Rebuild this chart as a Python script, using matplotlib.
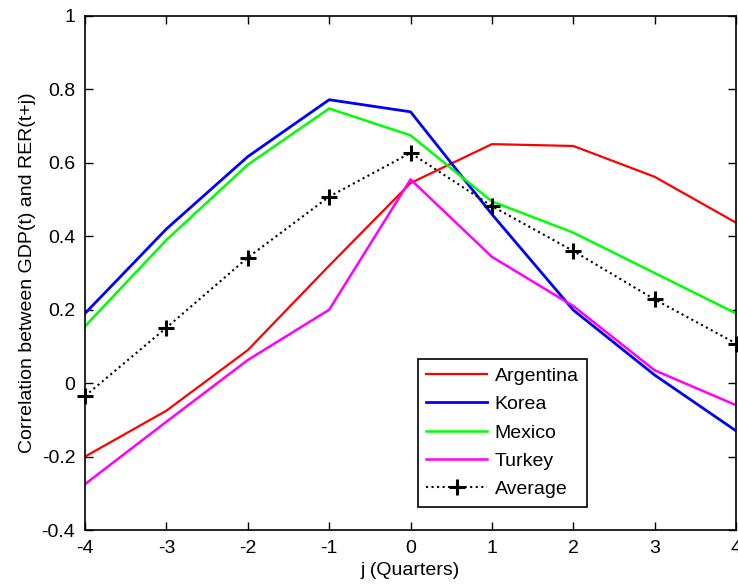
import numpy as np
import matplotlib.pyplot as plt

plt.rcParams['font.family'] = ['Liberation Sans', 'DejaVu Sans']

# lags j (quarters)
lags = [-4, -3, -2, -1, 0, 1, 2, 3, 4]

# correlation between GDP(t) and RER(t+j)
argentina = [-0.20, -0.075, 0.09, 0.32, 0.545, 0.651, 0.646, 0.562, 0.437]
korea = [0.19, 0.42, 0.617, 0.772, 0.739, 0.46, 0.199, 0.022, -0.13]
mexico = [0.155, 0.39, 0.595, 0.748, 0.675, 0.495, 0.41, 0.30, 0.19]
turkey = [-0.275, -0.105, 0.063, 0.20, 0.555, 0.344, 0.21, 0.035, -0.06]
average = [-0.035, 0.151, 0.342, 0.508, 0.627, 0.482, 0.36, 0.228, 0.108]

fig = plt.figure(figsize=(7.38, 5.88), dpi=100)
ax = fig.add_axes([0.1152, 0.0986, 0.8822, 0.8742])

ax.plot(lags, argentina, color='#ff0000', lw=1.6, label='Argentina')
ax.plot(lags, korea, color='#0000ff', lw=2.0, label='Korea')
ax.plot(lags, mexico, color='#00ff00', lw=1.8, label='Mexico')
ax.plot(lags, turkey, color='#ff00ff', lw=1.8, label='Turkey')
ax.plot(lags, average, color='black', ls=':', lw=1.5, marker='+',
        ms=11, mew=2.2, label='Average', clip_on=False)

ax.set_xlim(-4, 4)
ax.set_ylim(-0.4, 1)
ax.set_xticks(lags)
ax.set_yticks([-0.4, -0.2, 0, 0.2, 0.4, 0.6, 0.8, 1])
ax.set_yticklabels(['-0.4', '-0.2', '0', '0.2', '0.4', '0.6', '0.8', '1'])
ax.set_xticklabels([str(v) for v in lags])
ax.tick_params(direction='in', top=True, right=True, length=6, width=1,
               labelsize=14, pad=7)
for s in ax.spines.values():
    s.set_linewidth(1.2)

ax.set_xlabel('j (Quarters)', fontsize=14, labelpad=4)
ax.set_ylabel('Correlation between GDP(t) and RER(t+j)', fontsize=14, labelpad=4)

leg = ax.legend(loc='lower left', bbox_to_anchor=(0.511, 0.045), fancybox=False,
                edgecolor='black', framealpha=1, fontsize=14, handlelength=3.1,
                borderpad=0.45, labelspacing=0.55, handletextpad=0.4,
                borderaxespad=0)
leg.get_frame().set_linewidth(1.2)

fig.savefig('out.png', dpi=100)
